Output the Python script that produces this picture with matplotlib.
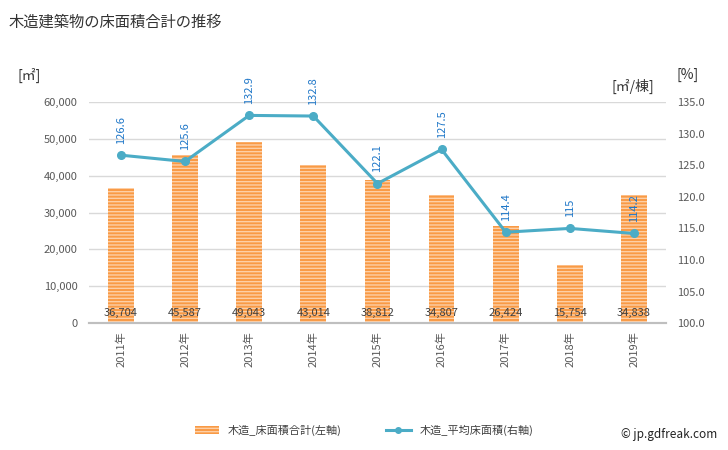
import matplotlib
matplotlib.use("Agg")
import matplotlib.pyplot as plt
import numpy as np
from matplotlib.patches import Patch
from matplotlib.lines import Line2D

plt.rcParams['font.family'] = ['Noto Sans CJK JP', 'DejaVu Sans']
plt.rcParams['hatch.linewidth'] = 1.0

years = ['2011年', '2012年', '2013年', '2014年', '2015年', '2016年', '2017年', '2018年', '2019年']
floor_area = [36704, 45587, 49043, 43014, 38812, 34807, 26424, 15754, 34838]
avg_area = [126.6, 125.6, 132.9, 132.8, 122.1, 127.5, 114.4, 115, 114.2]
avg_labels = ['126.6', '125.6', '132.9', '132.8', '122.1', '127.5', '114.4', '115', '114.2']

fig = plt.figure(figsize=(7.28, 4.5), dpi=100)
ax = fig.add_axes([0.122, 0.282, 0.793, 0.491])
ax2 = ax.twinx()

x = np.arange(len(years))
ax.bar(x, floor_area, width=0.4, color='#f99a45', edgecolor='#fdcfa6', hatch='-----',
       linewidth=0, zorder=2)
for xi, v in zip(x, floor_area):
    ax.text(xi, 1400, f'{v:,}', ha='center', va='bottom', fontsize=8, color='#404040', zorder=3)

ax.set_ylim(0, 60000)
ax.set_xlim(-0.5, len(years) - 0.5)
ax.set_yticks(np.arange(0, 60001, 10000))
ax.set_yticklabels([f'{v:,}' for v in range(0, 60001, 10000)])
ax.grid(axis='y', color='#d9d9d9', linewidth=1, zorder=0)
ax.set_axisbelow(True)
ax.set_xticks(x)
ax.set_xticklabels(years, rotation=90)

line_c = '#4bacc6'
ax2.plot(x, avg_area, color=line_c, linewidth=2.2, marker='o', markersize=5.5, zorder=4)
for xi, v, s in zip(x, avg_area, avg_labels):
    ax2.annotate(s, (xi, v), xytext=(0, 8), textcoords='offset points', rotation=90,
                 ha='center', va='bottom', fontsize=8, color='#1f77c8')
ax2.set_ylim(100, 135)
ax2.set_yticks(np.arange(100, 135.1, 5))
ax2.set_yticklabels([f'{v:.1f}' for v in np.arange(100, 135.1, 5)])

for a in (ax, ax2):
    for sp in ['top', 'left', 'right']:
        a.spines[sp].set_visible(False)
    a.spines['bottom'].set_color('#bfbfbf')
    a.spines['bottom'].set_linewidth(1.5)
    a.tick_params(length=0, labelsize=8, colors='#595959', pad=8)
ax.tick_params(axis='x', pad=6)

fig.text(0.012, 0.95, '木造建築物の床面積合計の推移', fontsize=11, color='#333333', va='center')
fig.text(0.04, 0.833, '[㎡]', fontsize=10, color='#333333', va='center', ha='center')
fig.text(0.945, 0.833, '[%]', fontsize=10, color='#333333', va='center', ha='center')
fig.text(0.87, 0.807, '[㎡/棟]', fontsize=10, color='#333333', va='center', ha='center')

handles = [Patch(facecolor='#f99a45', edgecolor='#fdcfa6', hatch='-----', linewidth=0),
           Line2D([0], [0], color=line_c, linewidth=2.2, marker='o', markersize=4)]
fig.legend(handles, ['木造_床面積合計(左軸)', '木造_平均床面積(右軸)'], loc='center',
           bbox_to_anchor=(0.5, 0.043), ncol=2, frameon=False, fontsize=8,
           handlelength=2.2, columnspacing=4, labelcolor='#404040')
fig.text(0.985, 0.035, '© jp.gdfreak.com', fontsize=8.5, color='#222222', ha='right', va='center')

fig.savefig('out.png', dpi=100)
